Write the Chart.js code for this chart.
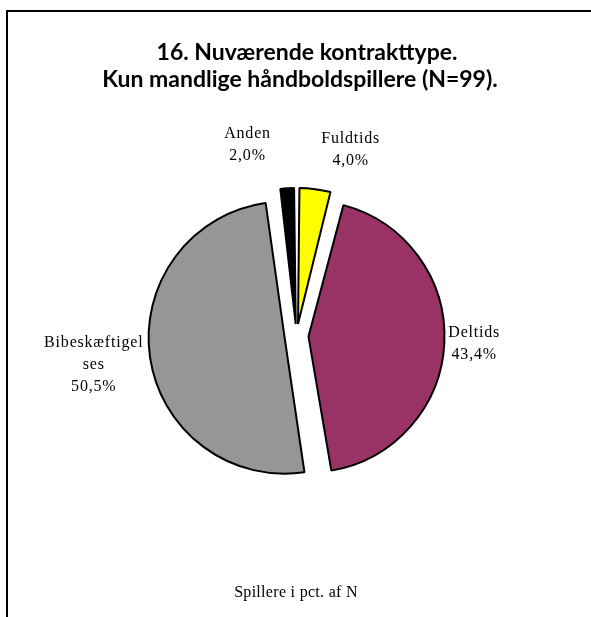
<!DOCTYPE html>
<html>
<head>
<meta charset="utf-8">
<script src="https://cdn.jsdelivr.net/npm/chart.js@4/dist/chart.umd.min.js"></script>
<style>
  html, body { margin: 0; padding: 0; background: #fff; }
  #wrap { position: relative; width: 591px; height: 617px; overflow: hidden; }
  #frame { position: absolute; left: 6px; top: 10px; right: -10px; bottom: -10px;
           border-left: 2px solid #000; border-top: 2px solid #000; }
  canvas { position: absolute; left: 0; top: 0; }
</style>
</head>
<body>
<div id="wrap">
  <div id="frame"></div>
  <canvas id="c" width="591" height="617"></canvas>
</div>
<script>
// Contract types, in pie order (clockwise from 12 o'clock)
const categories = ['Fuldtids', 'Deltids', ['Bibeskæftigel', 'ses'], 'Anden'];
// Share of players, percent
const shares = [4.0, 43.4, 50.5, 2.0];
const sliceColors = ['#FFFF00', '#993366', '#969696', '#000000'];
const titleLines = ['16. Nuværende kontrakttype.', 'Kun mandlige håndboldspillere (N=99).'];
const footnote = 'Spillere i pct. af N';

const PIE_RADIUS = 136;
const EXPLODE = 12;              // px each slice is pulled away from the centre
const ARC_OFFSET = EXPLODE * 4;  // Chart.js v4 translates an arc by offset / 4
const LINE_H = 22;
const LABEL_GAP = 3;
// extra shift for the two small slices' labels so they sit apart
const labelNudge = [[32, -11], [0, 0], [0, 0], [-38, -17]];

const fmtPct = v => v.toFixed(1).replace('.', ',') + '%';

// keep every exploded slice at the same visible radius
const evenRadius = {
  id: 'evenRadius',
  afterDatasetsUpdate(chart) {
    chart.getDatasetMeta(0).data.forEach(arc => {
      const fix = 1 - Math.sin(Math.min(Math.PI, arc.circumference));
      arc.outerRadius = PIE_RADIUS - EXPLODE * fix;
    });
  }
};

const texts = {
  id: 'texts',
  afterDraw(chart) {
    const ctx = chart.ctx;
    ctx.save();
    ctx.fillStyle = '#000';
    ctx.textAlign = 'center';

    // title
    ctx.font = 'bold 23px Lato';
    ctx.textBaseline = 'alphabetic';
    ctx.fillText(titleLines[0], 307, 60);
    ctx.fillText(titleLines[1], 300, 87);

    // footnote
    ctx.font = '16px "Liberation Serif"';
    ctx.letterSpacing = '0.3px';
    ctx.fillText(footnote, 296, 597);

    // slice labels
    ctx.letterSpacing = '0.8px';
    ctx.textBaseline = 'middle';
    chart.getDatasetMeta(0).data.forEach((arc, i) => {
      const mid = (arc.startAngle + arc.endAngle) / 2;
      const ux = Math.cos(mid), uy = Math.sin(mid);
      const cx = arc.x + ux * EXPLODE, cy = arc.y + uy * EXPLODE;
      const lines = [].concat(categories[i], fmtPct(shares[i]));
      const w = Math.max(...lines.map(l => ctx.measureText(l).width));
      const h = lines.length * LINE_H;
      const d = PIE_RADIUS + LABEL_GAP + Math.abs(ux) * w / 2 + Math.abs(uy) * h / 2;
      const bx = cx + ux * d + labelNudge[i][0];
      const by = cy + uy * d + labelNudge[i][1];
      lines.forEach((l, k) => ctx.fillText(l, bx, by + (k - (lines.length - 1) / 2) * LINE_H));
    });
    ctx.restore();
  }
};

new Chart(document.getElementById('c'), {
  type: 'pie',
  data: {
    labels: categories,
    datasets: [{
      data: shares,
      backgroundColor: sliceColors,
      borderColor: '#000',
      borderWidth: 2,
      offset: ARC_OFFSET,
      radius: PIE_RADIUS
    }]
  },
  options: {
    responsive: false,
    animation: false,
    events: [],
    layout: { padding: { left: 146, right: 144, top: 185, bottom: 130 } },
    plugins: { legend: { display: false }, tooltip: { enabled: false }, title: { display: false } }
  },
  plugins: [evenRadius, texts]
});
</script>
</body>
</html>
